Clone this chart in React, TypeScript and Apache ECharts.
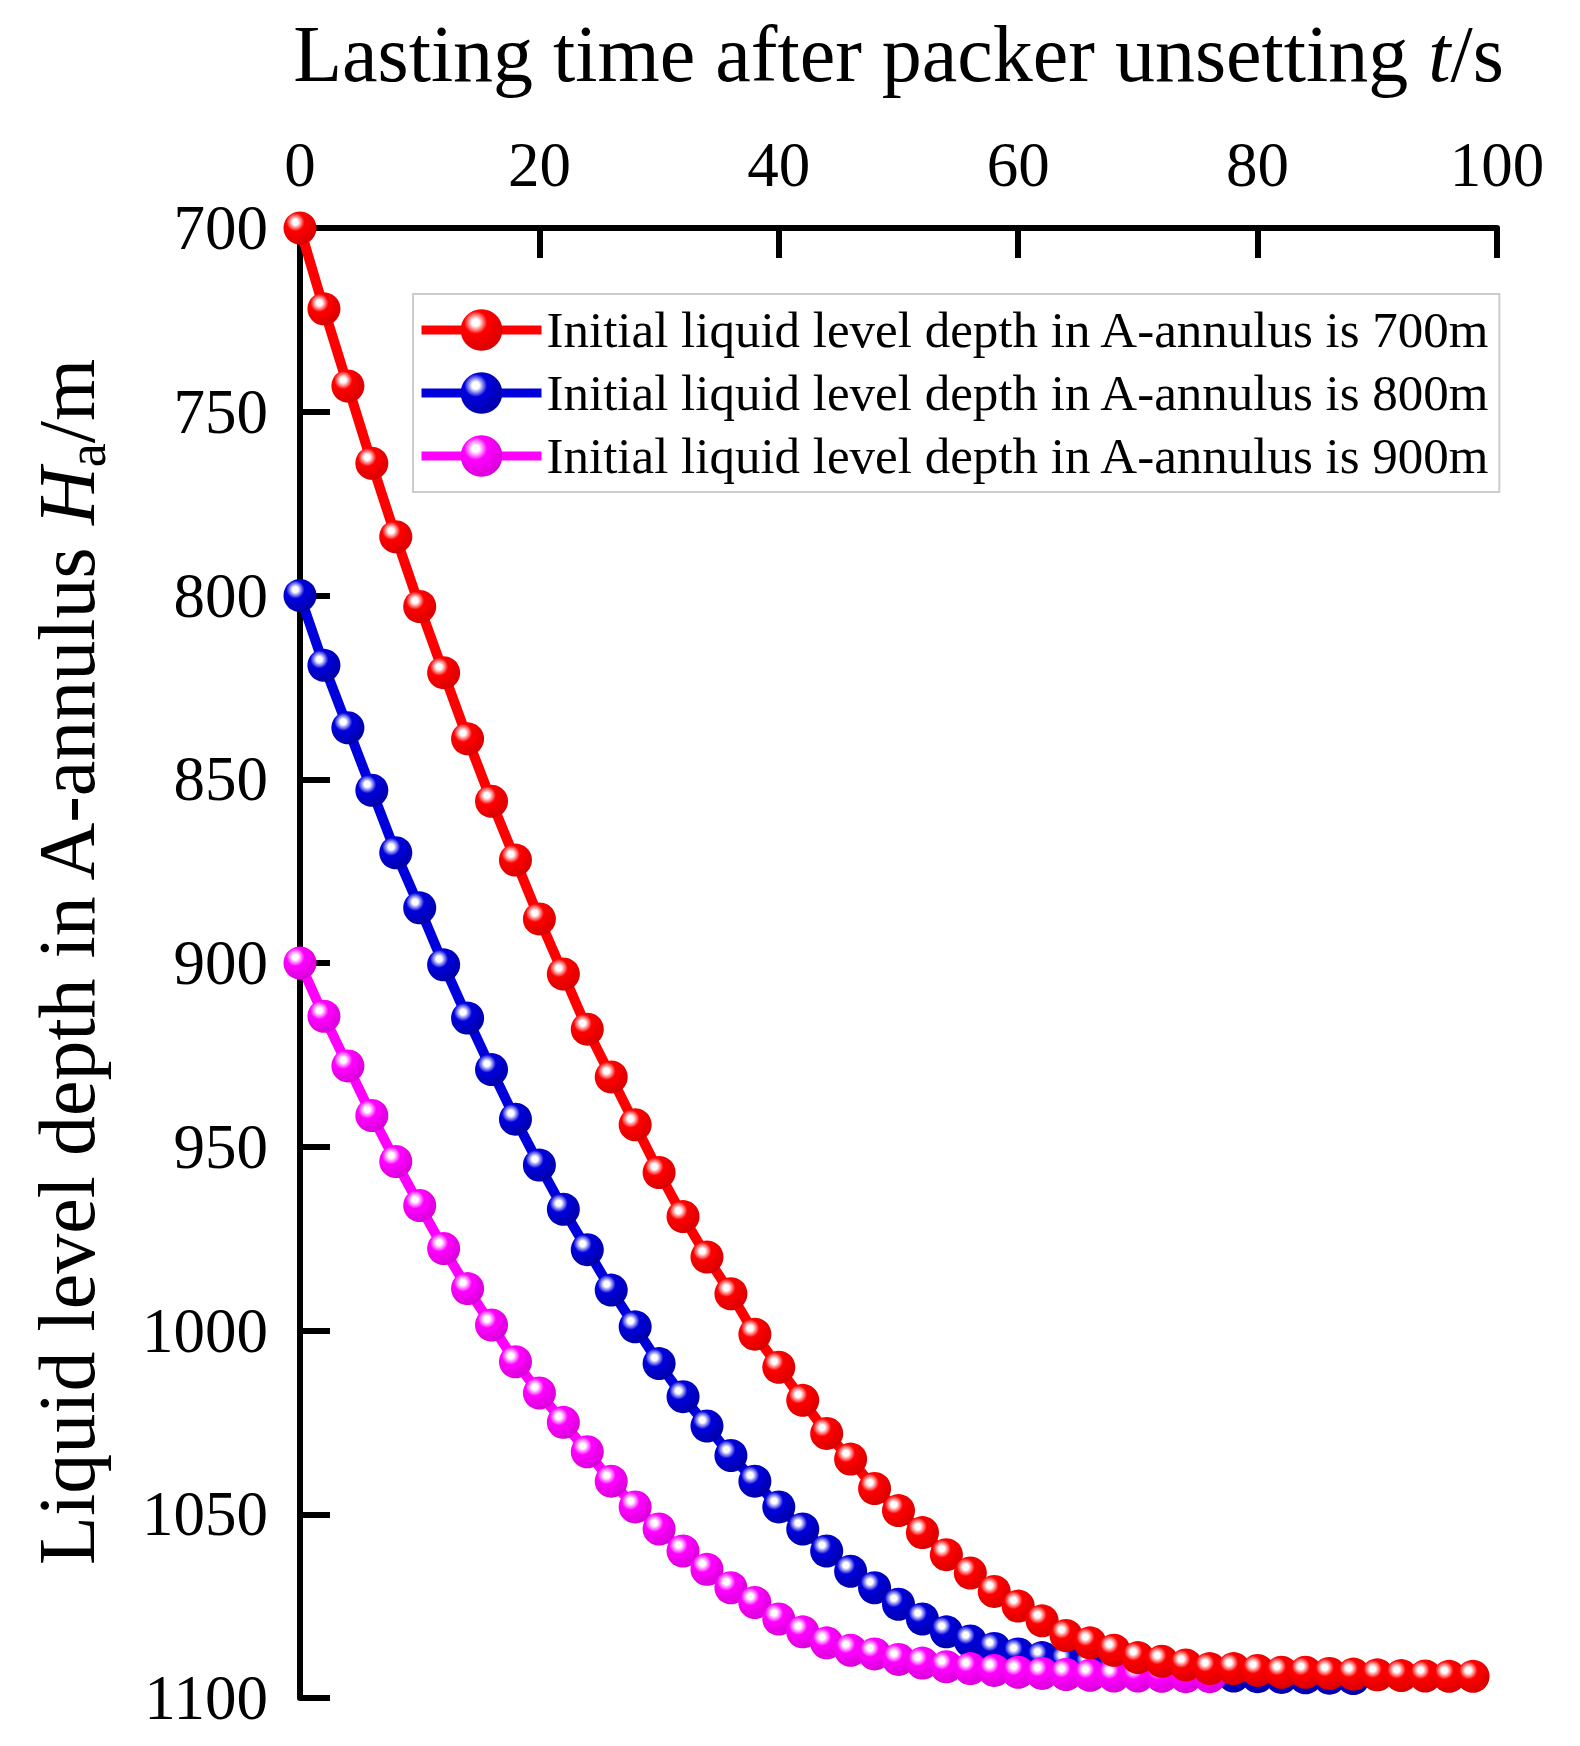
import { useRef, useEffect } from 'react'
import * as echarts from 'echarts'

const FONT = '"Liberation Serif", "Times New Roman", serif'

// time in s, one point every 2 s
const timesRed = [
  0, 2, 4, 6, 8, 10, 12, 14, 16, 18, 20, 22, 24, 26, 28, 30, 32, 34, 36, 38, 40, 42, 44, 46, 48,
  50, 52, 54, 56, 58, 60, 62, 64, 66, 68, 70, 72, 74, 76, 78, 80, 82, 84, 86, 88, 90, 92, 94, 96, 98,
]
const timesBlue = [
  0, 2, 4, 6, 8, 10, 12, 14, 16, 18, 20, 22, 24, 26, 28, 30, 32, 34, 36, 38, 40, 42, 44, 46, 48,
  50, 52, 54, 56, 58, 60, 62, 64, 66, 68, 70, 72, 74, 76, 78, 80, 82, 84, 86, 88,
]
const timesMagenta = [
  0, 2, 4, 6, 8, 10, 12, 14, 16, 18, 20, 22, 24, 26, 28, 30, 32, 34, 36, 38, 40, 42, 44, 46, 48,
  50, 52, 54, 56, 58, 60, 62, 64, 66, 68, 70, 72, 74, 76,
]

// liquid level depth in m
const depth700 = [
  700, 722, 743, 764, 784, 803, 821, 839, 856, 872, 888, 903, 918, 931, 944, 957, 969, 980, 990, 1001,
  1010, 1019, 1028, 1035, 1043, 1049, 1055, 1061, 1066, 1071, 1075, 1079, 1083, 1085, 1087, 1089,
  1090, 1091, 1092, 1092, 1092.5, 1093, 1093, 1093.3, 1093.5, 1093.7, 1093.9, 1094, 1094.1, 1094.1,
]
const depth800 = [
  800, 819, 836, 853, 870, 885, 900.5, 915, 929, 942.5, 955, 967, 978, 989, 999, 1009, 1018, 1026,
  1034, 1041, 1048, 1054, 1060, 1065.5, 1070, 1074.5, 1078.5, 1082, 1084.5, 1086.5, 1088, 1089, 1090,
  1091, 1091.8, 1092.4, 1093, 1093.4, 1093.7, 1094, 1094.2, 1094.4, 1094.5, 1094.6, 1094.7,
]
const depth900 = [
  900, 914.5, 928, 941.5, 954, 966, 977.7, 988.6, 998.5, 1008.5, 1017, 1025, 1033, 1041, 1048, 1054,
  1060, 1065, 1070, 1074, 1078.5, 1082, 1085, 1087, 1088, 1089.5, 1090.5, 1091.5, 1092, 1092.5, 1093,
  1093.3, 1093.6, 1093.8, 1094, 1094, 1094.1, 1094.2, 1094.2,
]

const seriesNames = [
  'Initial liquid level depth in A-annulus is 700m',
  'Initial liquid level depth in A-annulus is 800m',
  'Initial liquid level depth in A-annulus is 900m',
]

function sphere(base: string, edge: string) {
  return {
    type: 'radial',
    x: 0.36,
    y: 0.32,
    r: 0.72,
    colorStops: [
      { offset: 0, color: '#ffffff' },
      { offset: 0.12, color: '#ffffff' },
      { offset: 0.38, color: base },
      { offset: 1, color: edge },
    ],
  } as any
}

function makeSeries(name: string, t: number[], d: number[], line: string, base: string, edge: string, z: number) {
  return {
    name,
    type: 'line',
    data: t.map((x, i) => [x, d[i]]),
    symbol: 'circle',
    symbolSize: 33,
    z,
    lineStyle: { color: line, width: 10 },
    itemStyle: { color: sphere(base, edge) },
  }
}

function buildOption(): echarts.EChartsOption {
  return {
    backgroundColor: '#ffffff',
    animation: false,
    textStyle: { fontFamily: FONT },
    grid: { left: 300, right: 83, top: 228, bottom: 48, containLabel: false },
    legend: {
      orient: 'vertical',
      left: 413,
      top: 294,
      align: 'left',
      data: seriesNames,
      itemWidth: 120,
      itemHeight: 52,
      itemGap: 11,
      padding: [10, 8, 10, 4],
      backgroundColor: '#ffffff',
      borderColor: '#cccccc',
      borderWidth: 2,
      lineStyle: { width: 9 },
      textStyle: { fontFamily: FONT, fontSize: 51, lineHeight: 52, color: '#000' },
    },
    xAxis: {
      type: 'value',
      position: 'top',
      min: 0,
      max: 100,
      interval: 20,
      name: '{n|Lasting time after packer unsetting }{i|t}{n|/s}',
      nameLocation: 'middle',
      nameGap: 134,
      nameTextStyle: {
        rich: {
          n: { fontFamily: FONT, fontSize: 80, color: '#000' },
          i: { fontFamily: FONT, fontSize: 80, fontStyle: 'italic', color: '#000' },
        },
      },
      axisLine: { show: true, lineStyle: { color: '#000', width: 6 } },
      axisTick: { show: true, inside: true, length: 30, lineStyle: { color: '#000', width: 6 } },
      axisLabel: { fontFamily: FONT, fontSize: 63, color: '#000', margin: 32 },
      splitLine: { show: false },
    },
    yAxis: {
      type: 'value',
      inverse: true,
      min: 700,
      max: 1100,
      interval: 50,
      name: '{n|Liquid level depth in A-annulus }{i|H}{s|a}{n|/m}',
      nameLocation: 'middle',
      nameGap: 186,
      nameTextStyle: {
        rich: {
          n: { fontFamily: FONT, fontSize: 80, color: '#000' },
          i: { fontFamily: FONT, fontSize: 80, fontStyle: 'italic', color: '#000' },
          s: { fontFamily: FONT, fontSize: 54, color: '#000', padding: [40, 0, 0, 0] },
        },
      },
      axisLine: { show: true, lineStyle: { color: '#000', width: 6 } },
      axisTick: { show: true, inside: true, length: 30, lineStyle: { color: '#000', width: 6 } },
      axisLabel: {
        fontFamily: FONT,
        fontSize: 63,
        color: '#000',
        margin: 32,
        formatter: (v: number) => String(v),
      },
      splitLine: { show: false },
    },
    series: [
      makeSeries(seriesNames[0], timesRed, depth700, '#ff0000', '#ff0000', '#d80000', 4),
      makeSeries(seriesNames[1], timesBlue, depth800, '#0000dd', '#0000dd', '#0000a8', 2),
      makeSeries(seriesNames[2], timesMagenta, depth900, '#ff00ff', '#ff00ff', '#d800d8', 3),
    ] as any,
  }
}

export default function App() {
  const ref = useRef<HTMLDivElement>(null)

  useEffect(() => {
    const el = ref.current
    if (!el) return
    document.body.style.margin = '0'
    const chart = echarts.init(el, null, { renderer: 'svg' })
    chart.setOption(buildOption())
    return () => chart.dispose()
  }, [])

  return <div ref={ref} style={{ position: 'absolute', left: 0, top: 0, width: 1580, height: 1746 }} />
}
